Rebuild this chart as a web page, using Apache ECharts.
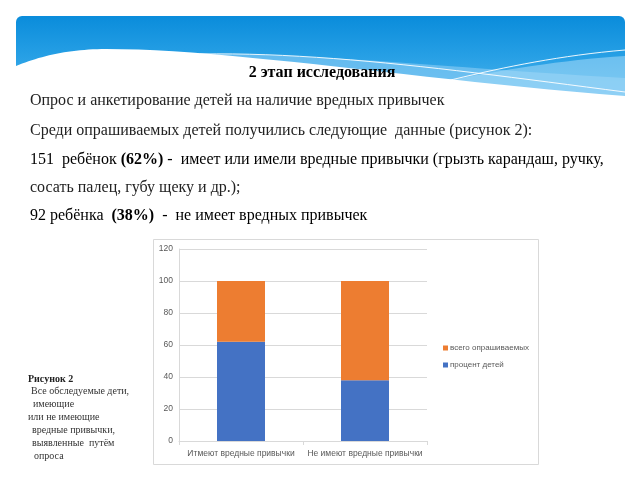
<!DOCTYPE html>
<html><head><meta charset="utf-8">
<script src="https://cdn.jsdelivr.net/npm/echarts@6/dist/echarts.min.js"></script>
<style>html,body{margin:0;padding:0;background:#fff}#c{width:640px;height:480px}</style>
</head><body><div id="c"></div>
<script>
const categories = ['Итмеют вредные привычки', 'Не имеют вредные привычки'];
const seriesNames = ['процент детей', 'всего опрашиваемых'];
const childrenPct = [62, 38];
const totalSurveyed = [38, 62];
const yTicks = { min: 0, max: 120, interval: 20 };
const titleText = '2 этап исследования';
const bodyLines = [
  'Опрос и анкетирование детей на наличие вредных привычек',
  'Среди опрашиваемых детей получились следующие  данные (рисунок 2):',
  [['151  ребёнок ', false], ['(62%)', true], [' -  имеет или имели вредные привычки (грызть карандаш, ручку,', false]],
  'сосать палец, губу щеку и др.);',
  [['92 ребёнка  ', false], ['(38%)', true], ['  -  не имеет вредных привычек', false]]
];
const captionLines = ['Все обследуемые дети,', 'имеющие', 'или не имеющие', 'вредные привычки,', 'выявленные  путём', 'опроса'];

const chart = echarts.init(document.getElementById('c'));
const serif = '"Liberation Serif", "Times New Roman", serif';
const sans = '"Liberation Sans", Arial, sans-serif';

function bez(segs) {
  const pts = [];
  segs.forEach(s => {
    const [p0, p1, p2, p3] = s;
    for (let i = 0; i <= 24; i++) {
      const t = i / 24, u = 1 - t;
      pts.push([
        u*u*u*p0[0] + 3*u*u*t*p1[0] + 3*u*t*t*p2[0] + t*t*t*p3[0],
        u*u*u*p0[1] + 3*u*u*t*p1[1] + 3*u*t*t*p2[1] + t*t*t*p3[1]
      ]);
    }
  });
  return pts;
}

const graphics = [];
graphics.push({
  type: 'rect', z: 0, shape: { x: 16, y: 16, width: 609, height: 82, r: [6, 6, 0, 0] },
  style: { fill: new echarts.graphic.LinearGradient(0, 0, 0, 1, [
    { offset: 0, color: '#0a8cdb' }, { offset: 0.5, color: '#27a0e5' }, { offset: 1, color: '#4fb5ec' }]) }
});
graphics.push({
  type: 'polygon', z: 1,
  shape: { points: bez([[[200,54],[330,54],[450,68],[625,78]]]).concat([[625,99],[200,99]]) },
  style: { fill: 'rgba(140,205,245,0.6)' }
});
graphics.push({
  type: 'polygon', z: 1,
  shape: { points: bez([[[360,99],[440,82],[530,62],[625,56]]]).concat([[625,99]]) },
  style: { fill: 'rgba(165,218,248,0.55)' }
});
graphics.push({
  type: 'polygon', z: 2,
  shape: { points: bez([[[16,66],[40,56],[70,49],[106,49]], [[106,49],[230,49],[420,80],[625,96]]]).concat([[625,100],[16,100]]) },
  style: { fill: '#ffffff' }
});
graphics.push({
  type: 'polyline', z: 3, shape: { points: bez([[[200,54],[330,52],[470,72],[625,92]]]) },
  style: { stroke: 'rgba(255,255,255,0.9)', lineWidth: 1, fill: null }
});
graphics.push({
  type: 'polyline', z: 3, shape: { points: bez([[[380,98],[450,80],[530,58],[625,50]]]) },
  style: { stroke: 'rgba(255,255,255,0.9)', lineWidth: 1, fill: null }
});
graphics.push({
  type: 'text', z: 10, style: { x: 322, y: 73, text: titleText, font: 'bold 16px ' + serif, fill: '#000', align: 'center', verticalAlign: 'middle' }
});
const lineYs = [101, 131, 160, 188, 216];
bodyLines.forEach((ln, i) => {
  if (typeof ln === 'string') {
    graphics.push({ type: 'text', z: 10, style: { x: 30, y: lineYs[i], text: ln, font: '16px ' + serif, fill: '#222', verticalAlign: 'middle' } });
  } else {
    const rich = {};
    let txt = '';
    ln.forEach((p, j) => {
      rich['p' + j] = { fontFamily: serif, fontSize: 16, fontWeight: p[1] ? 'bold' : 'normal', color: '#222' };
      txt += '{p' + j + '|' + p[0] + '}';
    });
    graphics.push({ type: 'text', z: 10, style: { x: 30, y: lineYs[i], text: txt, rich: rich, verticalAlign: 'middle' } });
  }
});
graphics.push({ type: 'text', z: 10, style: { x: 28, y: 379, text: 'Рисунок 2', font: 'bold 10px ' + serif, fill: '#222', verticalAlign: 'middle' } });
const capX = [31, 33, 28, 32, 32, 34];
const capY = [391, 404, 417, 430, 443, 456];
captionLines.forEach((t, i) => {
  graphics.push({ type: 'text', z: 10, style: { x: capX[i], y: capY[i], text: t, font: '10px ' + serif, fill: '#333', verticalAlign: 'middle' } });
});
graphics.push({ type: 'rect', z: 5, shape: { x: 153.5, y: 239.5, width: 385, height: 225 }, style: { fill: '#fff', stroke: '#d9d9d9', lineWidth: 1 } });

chart.setOption({
  animation: false,
  backgroundColor: '#fff',
  textStyle: { fontFamily: sans },
  graphic: { elements: graphics },
  grid: { left: 179, right: 213, top: 249, bottom: 39, containLabel: false, z: 20 },
  legend: {
    orient: 'vertical', left: 438, top: 339, itemWidth: 5, itemHeight: 5, itemGap: 9, icon: 'rect',
    data: [seriesNames[1], seriesNames[0]], z: 20,
    textStyle: { fontSize: 8, color: '#595959', fontFamily: sans, padding: [0, 0, 0, -3] }
  },
  xAxis: {
    type: 'category', data: categories, z: 20,
    axisLine: { lineStyle: { color: '#d9d9d9' } },
    axisTick: { show: true, length: 4, lineStyle: { color: '#d9d9d9' } },
    axisLabel: { fontSize: 8.5, color: '#595959', margin: 8, interval: 0 }
  },
  yAxis: {
    type: 'value', min: yTicks.min, max: yTicks.max, interval: yTicks.interval, z: 20,
    axisLine: { show: true, lineStyle: { color: '#d9d9d9' } },
    axisTick: { show: false },
    axisLabel: { fontSize: 8.5, color: '#595959', margin: 6 },
    splitLine: { lineStyle: { color: '#d9d9d9' } }
  },
  series: [
    { name: seriesNames[0], type: 'bar', stack: 's', data: childrenPct, barWidth: 48, itemStyle: { color: '#4472c4' }, z: 21 },
    { name: seriesNames[1], type: 'bar', stack: 's', data: totalSurveyed, barWidth: 48, itemStyle: { color: '#ed7d31' }, z: 21 }
  ]
});
</script></body></html>
